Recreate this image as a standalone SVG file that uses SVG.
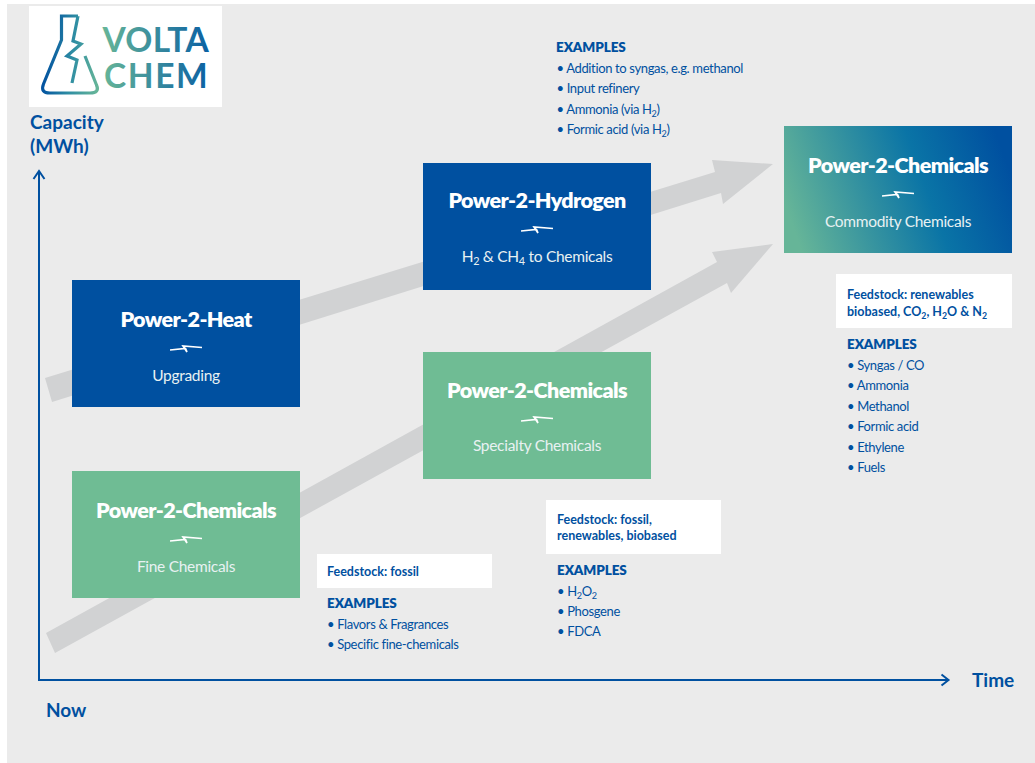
<svg xmlns="http://www.w3.org/2000/svg" width="1035" height="763" viewBox="0 0 1035 763">
<style>
text{font-family:Lato,"Noto Sans","Liberation Sans",sans-serif;fill:#0050a0}
.t{font-size:21.5px;font-weight:800;fill:#fff;text-anchor:middle;letter-spacing:-.6px}
.s{font-size:15.5px;fill:#e8f1f2;text-anchor:middle;letter-spacing:-.3px}
.b{font-size:13px;font-weight:400;letter-spacing:-.36px}
.e{font-size:13.5px;font-weight:800;letter-spacing:-.1px}
.f{font-size:12.5px;font-weight:700}
.a{font-size:19px;font-weight:700}
.sub{font-size:70%}
.bolt{fill:none;stroke:#fff;stroke-width:1.7}
</style>
<defs>
<linearGradient id="g" x1="0" y1="0.6" x2="1" y2="0.4"><stop offset="0" stop-color="#66b598"/><stop offset=".62" stop-color="#0a74a6"/><stop offset="1" stop-color="#0050a0"/></linearGradient>
<linearGradient id="lg" gradientUnits="userSpaceOnUse" x1="42" y1="78" x2="98" y2="84"><stop offset="0" stop-color="#0050a0"/><stop offset=".5" stop-color="#2f8ea3"/><stop offset="1" stop-color="#66b598"/></linearGradient>
<linearGradient id="lt" gradientUnits="userSpaceOnUse" x1="103" y1="0" x2="210" y2="0"><stop offset="0" stop-color="#66b598"/><stop offset="1" stop-color="#0a60a3"/></linearGradient>
<path id="z" class="bolt" d="M-16 2 L-.5 .5 L1 4 L-3 -2 L16 -.5"/>
</defs>
<rect x="7" y="4" width="1028" height="759" fill="#ebebeb"/>
<g id="connectors">
<polygon fill="#d1d2d3" points="45,378 52,402 721,193 723,204 773,164 712,160 715,172"/>
<polygon fill="#d1d2d3" points="46,633 55,653 727,283 731,293 773,244 712,252 717,262"/>
<path d="M39 681V172M33.500 179L39 171L44.500 179" fill="none" stroke="#0050a0" stroke-width="2"/>
<path d="M38 680H948M941.500 674.500L948.500 680L941.500 685.500" fill="none" stroke="#0050a0" stroke-width="2"/>
</g>
<g id="logo">
<rect x="29" y="6" width="193" height="101" fill="#fff"/>
<path d="M78 16H61.500V40L43.500 84Q40 93 50 93H90Q100 93 96.500 85L85 56M78 16L73 41L81 44L67 56L77 60L72 83" fill="none" stroke="url(#lg)" stroke-width="3.2"/>
<text font-size="33.500" font-weight="700" style="fill:url(#lt)"><tspan x="102.500" y="52" letter-spacing=".3">VOLTA</tspan><tspan x="104" y="88" letter-spacing="1.600">CHEM</tspan></text>
</g>
<g id="axis-y"><text class="a" x="30" y="129">Capacity</text><text class="a" x="30" y="153">(MWh)</text></g>
<g id="axis-x"><text class="a" x="972" y="687">Time</text></g>
<g id="now"><text class="a" x="46" y="716.500">Now</text></g>
<g id="heat"><rect x="72" y="280" width="228" height="127" fill="#0050a0"/><text class="t" x="186" y="326.500">Power-2-Heat</text><use href="#z" x="186" y="348"/><text class="s" x="186" y="381">Upgrading</text></g>
<g id="fine"><rect x="72" y="471" width="228" height="127" fill="#6fbc94"/><text class="t" x="186" y="517.500">Power-2-Chemicals</text><use href="#z" x="186" y="539"/><text class="s" x="186" y="572">Fine Chemicals</text></g>
<g id="hydrogen"><rect x="423" y="163" width="228" height="127" fill="#0050a0"/><text class="t" x="537" y="207.500">Power-2-Hydrogen</text><use href="#z" x="537" y="229"/><text class="s" x="537" y="262">H<tspan class="sub" dy="3">2</tspan><tspan dy="-3"> &amp; CH</tspan><tspan class="sub" dy="3">4</tspan><tspan dy="-3"> to Chemicals</tspan></text></g>
<g id="specialty"><rect x="423" y="352" width="228" height="127" fill="#6fbc94"/><text class="t" x="537" y="397.500">Power-2-Chemicals</text><use href="#z" x="537" y="419"/><text class="s" x="537" y="451">Specialty Chemicals</text></g>
<g id="commodity"><rect x="784" y="126" width="228" height="127" fill="url(#g)"/><text class="t" x="898" y="172.500">Power-2-Chemicals</text><use href="#z" x="898" y="194"/><text class="s" x="898" y="227">Commodity Chemicals</text></g>
<g id="ex-hydrogen"><text class="e" x="556" y="52">EXAMPLES</text>
<text class="b" x="556.500" y="73">• Addition to syngas, e.g. methanol</text><text class="b" x="556.500" y="93">• Input refinery</text><text class="b" x="556.500" y="114">• Ammonia (via H<tspan class="sub" dy="3">2</tspan><tspan dy="-3">)</tspan></text><text class="b" x="556.500" y="134">• Formic acid (via H<tspan class="sub" dy="3">2</tspan><tspan dy="-3">)</tspan></text></g>
<g id="ex-fine"><rect x="317" y="554" width="175" height="34" fill="#fff"/><text class="f" x="327" y="576">Feedstock: fossil</text><text class="e" x="327" y="608">EXAMPLES</text><text class="b" x="327" y="629">• Flavors &amp; Fragrances</text><text class="b" x="327" y="649">• Specific fine-chemicals</text></g>
<g id="ex-specialty"><rect x="546" y="500" width="175" height="54" fill="#fff"/><text class="f" x="557" y="524">Feedstock: fossil,</text><text class="f" x="557" y="540">renewables, biobased</text><text class="e" x="557" y="575">EXAMPLES</text><text class="b" x="557" y="596">• H<tspan class="sub" dy="3">2</tspan><tspan dy="-3">O</tspan><tspan class="sub" dy="3">2</tspan></text><text class="b" x="557" y="616">• Phosgene</text><text class="b" x="557" y="636">• FDCA</text></g>
<g id="ex-commodity"><rect x="836" y="274" width="176" height="54" fill="#fff"/><text class="f" x="847" y="299">Feedstock: renewables</text><text class="f" x="847" y="316">biobased, CO<tspan class="sub" dy="3">2</tspan><tspan dy="-3">, H</tspan><tspan class="sub" dy="3">2</tspan><tspan dy="-3">O &amp; N</tspan><tspan class="sub" dy="3">2</tspan></text><text class="e" x="847" y="349">EXAMPLES</text><text class="b" x="847" y="370">• Syngas / CO</text><text class="b" x="847" y="390">• Ammonia</text><text class="b" x="847" y="411">• Methanol</text><text class="b" x="847" y="431">• Formic acid</text><text class="b" x="847" y="452">• Ethylene</text><text class="b" x="847" y="472">• Fuels</text></g>
</svg>
